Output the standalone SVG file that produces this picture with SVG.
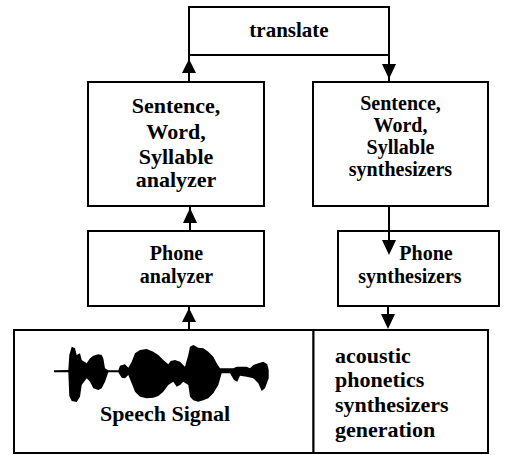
<svg xmlns="http://www.w3.org/2000/svg" width="506" height="455" viewBox="0 0 506 455">
<style>
.box{fill:#fff;stroke:#000;stroke-width:2}
.ln{stroke:#000;stroke-width:2;fill:none}
.ah{fill:#000;stroke:none}
.t{font-family:"Liberation Serif","Times New Roman",serif;font-weight:bold;fill:#000}
.c{text-anchor:middle}
</style>
<rect width="506" height="455" fill="#fff"/>
<g id="translate">
<rect class="box" x="189" y="7" width="200" height="48"/>
<text class="t c" x="289" y="37" font-size="21">translate</text>
</g>
<g id="sentence-analyzer">
<rect class="box" x="88" y="82" width="176" height="124"/>
<text class="t c" font-size="22"><tspan x="176" y="113">Sentence,</tspan><tspan x="176" y="138.5">Word,</tspan><tspan x="176" y="163.5">Syllable</tspan><tspan x="176" y="187">analyzer</tspan></text>
</g>
<g id="sentence-synth">
<rect class="box" x="313" y="82" width="175" height="124"/>
<text class="t c" font-size="20"><tspan x="400.5" y="110">Sentence,</tspan><tspan x="400.5" y="132">Word,</tspan><tspan x="400.5" y="153.5">Syllable</tspan><tspan x="400.5" y="175.5">synthesizers</tspan></text>
</g>
<g id="phone-analyzer">
<rect class="box" x="88" y="231" width="176" height="75"/>
<text class="t c" font-size="20"><tspan x="176.5" y="260">Phone</tspan><tspan x="176.5" y="283">analyzer</tspan></text>
</g>
<g id="phone-synth">
<rect class="box" x="338" y="231" width="161" height="75"/>
<text class="t c" font-size="20"><tspan x="426" y="260">Phone</tspan><tspan x="410" y="283">synthesizers</tspan></text>
</g>
<g id="speech-signal">
<rect class="box" x="14" y="330" width="299.5" height="123"/>
<path fill="#000" d="M54,370.3 L68.3,370 L69.3,355 L71.7,346.7 L75,348.3 L76.7,355 L80,353.3 L81.7,360 L86.7,363.3 L90,358.3 L93.3,355.7 L98.3,354.3 L101.7,355 L103.3,358.3 L105,368.3 L108.3,370.3 L118.3,370.3 L120,365.7 L125,364.3 L128.3,367.7 L131.7,361.7 L135,353.3 L140,350 L146.7,349 L153.3,351.7 L158.3,355 L163.3,360 L168.3,364.3 L170.7,361 L175,360 L180,361.7 L185,366.7 L188.3,355 L190,346.7 L193.3,345 L198.3,347.7 L203.3,348.3 L208.3,351.7 L213.3,356.7 L216.7,363.3 L220,368.3 L233.3,368.3 L236.7,366.7 L246.7,366.7 L250,368.3 L253.3,365 L258.3,363.3 L263.3,361.7 L267.3,364.3 L268.7,370 L268.7,378.3 L265,388.3 L261.7,391 L258.3,383.3 L253.3,378.3 L246.7,376.7 L240,375.7 L237.3,381.7 L234,380 L230,373.3 L221.7,373.3 L218.3,385 L213.3,393.3 L208.3,398.3 L203.3,400.3 L198.3,401.7 L193.3,400.3 L190,396.7 L188.3,385 L183.3,381.7 L180,385 L176.7,386.7 L173.3,381.7 L168.3,385 L163.3,391.7 L158.3,396 L153.3,397.7 L146.7,398.3 L140,396.7 L135,391.7 L131.7,383.3 L128.3,375 L125,378.3 L121.7,377.7 L118.3,372.3 L108.3,372.3 L105,381.7 L101.7,388.3 L98.3,390 L93.3,388.3 L90,381.7 L86.7,378.3 L81.7,385 L80,396.7 L76.7,402 L71.7,401 L69.3,396 L68.3,372.3 L54,372.3 Z"/>
<text class="t c" x="165" y="421" font-size="22">Speech Signal</text>
</g>
<g id="acoustic-generation">
<rect class="box" x="313.5" y="330" width="174.5" height="123"/>
<text class="t" font-size="22"><tspan x="335" y="362.5">acoustic</tspan><tspan x="335" y="387">phonetics</tspan><tspan x="335" y="411.5">synthesizers</tspan><tspan x="335" y="436.5">generation</tspan></text>
</g>
<g id="connectors">
<line class="ln" x1="189" y1="82" x2="189" y2="55"/>
<polygon class="ah" points="189,59 182,73 196,73"/>
<line class="ln" x1="389" y1="55" x2="389" y2="82"/>
<polygon class="ah" points="389,79 382,64 396,64"/>
<line class="ln" x1="190" y1="231" x2="190" y2="206"/>
<polygon class="ah" points="190,208 183,223 197,223"/>
<line class="ln" x1="389" y1="206" x2="389" y2="245"/>
<polygon class="ah" points="389,255 382,240 396,240"/>
<line class="ln" x1="189" y1="330" x2="189" y2="306"/>
<polygon class="ah" points="189,308 182,322 196,322"/>
<line class="ln" x1="388" y1="306" x2="388" y2="320"/>
<polygon class="ah" points="388,329 381,314 395,314"/>
</g>
</svg>
